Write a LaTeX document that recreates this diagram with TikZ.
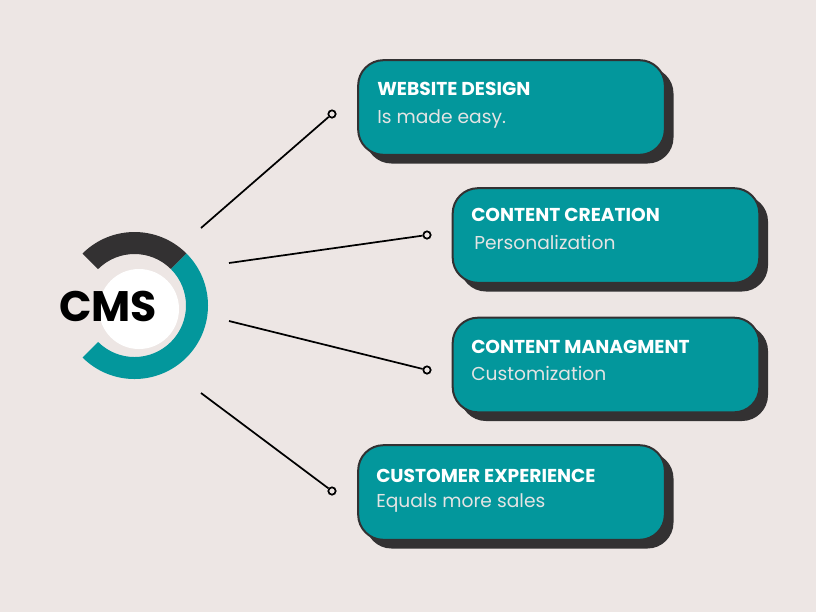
\documentclass[tikz,border=0pt]{standalone}
\usepackage{fontspec}
\setmainfont{Poppins}
\definecolor{bg}{HTML}{EDE6E4}
\definecolor{teal}{HTML}{03979C}
\definecolor{dark}{HTML}{333132}
\definecolor{sub}{HTML}{E4E4E4}
\tikzset{
  card/.style={draw=dark, line width=1.5pt, fill=teal, rounded corners=19pt, minimum width=230pt, minimum height=71pt},
  cardshadow/.style={draw=dark, line width=1pt, fill=dark, rounded corners=19pt, minimum width=230pt, minimum height=71pt},
  ttl/.style={anchor=base west, text=white, font=\bfseries\fontsize{14}{16}\selectfont, inner sep=0pt},
  subt/.style={anchor=base west, text=sub, font=\fontsize{14}{16}\selectfont, inner sep=0pt},
  enddot/.style={circle, draw=black, line width=1.3pt, fill=bg, inner sep=0pt, minimum size=5.5pt},
  conn/.style={draw=black, line width=1.3pt}
}
\begin{document}
\begin{tikzpicture}[x=0.75pt,y=-0.75pt]
\fill[bg] (0,0) rectangle (816,612);
\useasboundingbox (0,0) rectangle (816,612);
% ring
\fill[dark] (134.5,305.5) ++(-135:73.5) arc[start angle=-135,end angle=-45,radius=73.5] -- ++(135:22) arc[start angle=-45,end angle=-135,radius=51.5] -- cycle;
\fill[teal] (134.5,305.5) ++(-45:73.5) arc[start angle=-45,end angle=135,radius=73.5] -- ++(-45:22) arc[start angle=135,end angle=-45,radius=51.5] -- cycle;
\node[circle, fill=white, minimum size=60pt, inner sep=0pt] (hub) at (139,309) {};
\node[font=\bfseries\fontsize{32}{34}\selectfont, text=black, inner sep=0pt] (cms) at (108,306) {CMS};
% cards
\node[cardshadow] (sh1) at (519.5,115.5) {};
\node[card] (c1) at (511.5,107.5) {};
\node[cardshadow] (sh2) at (614,243.5) {};
\node[card] (c2) at (606,235.5) {};
\node[cardshadow] (sh3) at (614,373) {};
\node[card] (c3) at (606,365) {};
\node[cardshadow] (sh4) at (519.5,500.5) {};
\node[card] (c4) at (511.5,492.5) {};
\node[ttl] (t1) at (377,95) {WEBSITE DESIGN};
\node[subt] (u1) at (377,123) {Is made easy.};
\node[ttl] (t2) at (471,221) {CONTENT CREATION};
\node[subt] (u2) at (474,249) {Personalization};
\node[ttl] (t3) at (471,353) {CONTENT MANAGMENT};
\node[subt] (u3) at (471,380) {Customization};
\node[ttl] (t4) at (376,482) {CUSTOMER EXPERIENCE};
\node[subt] (u4) at (376,507) {Equals more sales};
% connectors
\coordinate (s1) at (201,228);
\coordinate (s2) at (229,263);
\coordinate (s3) at (229,321);
\coordinate (s4) at (201,393);
\node[enddot] (e1) at (332,114) {};
\node[enddot] (e2) at (427,235) {};
\node[enddot] (e3) at (427,370) {};
\node[enddot] (e4) at (332,491) {};
\draw[conn] (s1) -- (e1);
\draw[conn] (s2) -- (e2);
\draw[conn] (s3) -- (e3);
\draw[conn] (s4) -- (e4);
\end{tikzpicture}
\end{document}
